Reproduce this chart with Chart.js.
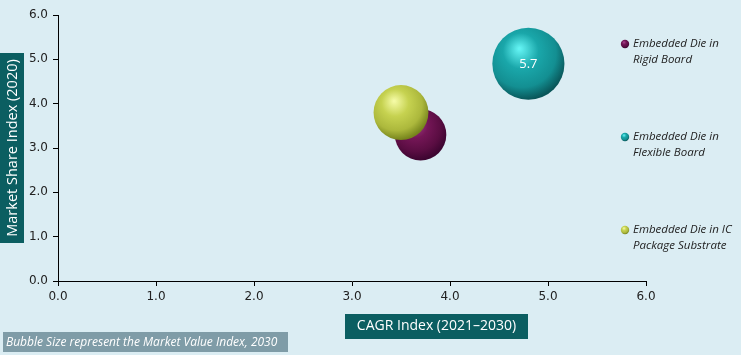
<!DOCTYPE html>
<html><head><meta charset="utf-8">
<script src="https://cdn.jsdelivr.net/npm/chart.js@4"></script>
<style>html,body{margin:0;padding:0;background:#dbedf3;}#wrap{width:741px;height:355px;}</style>
</head><body><div id="wrap"><canvas id="c" width="741" height="355"></canvas></div>
<script>
// ---- data ----
const seriesNames = [["Embedded Die in","Rigid Board"],["Embedded Die in","Flexible Board"],["Embedded Die in IC","Package Substrate"]];
const cagrIndex = [3.7, 4.8, 3.5];
const shareIndex = [3.3, 4.9, 3.8];
const valueIndex = [2.9, 5.7, 3.3];
const shownLabels = [null, "5.7", null];
const xTickValues = [0,1,2,3,4,5,6];
const yTickValues = [0,1,2,3,4,5,6];
const xTitle = "CAGR Index (2021\u20132030)";
const yTitle = "Market Share Index (2020)";
const footnote = "Bubble Size represent the Market Value Index, 2030";

const palettes = [
  ['#a6418a','#741656','#5a0d42','#3c0530'],
  ['#62f2f2','#1aa7aa','#138f92','#095659'],
  ['#f4faa4','#c6d250','#acb83c','#76841c']
];
const K = 15.1;
function rad(v){ return K*Math.sqrt(v); }
function sphereGrad(c, x, y, r, p){
  const g = c.createRadialGradient(x-0.25*r, y-0.42*r, r*0.03, x-0.15*r, y-0.25*r, 1.25*r);
  g.addColorStop(0, p[0]);
  g.addColorStop(0.38, p[1]);
  g.addColorStop(0.75, p[2]);
  g.addColorStop(1, p[3]);
  return g;
}
function bg(i){
  return function(ctx){
    const chart = ctx.chart, raw = ctx.raw;
    if(!raw || !chart.scales || !chart.scales.x || !chart.scales.y) return palettes[i][1];
    const x = chart.scales.x.getPixelForValue(raw.x), y = chart.scales.y.getPixelForValue(raw.y);
    if(!isFinite(x) || !isFinite(y)) return palettes[i][1];
    return sphereGrad(chart.ctx, x, y, rad(raw.v), palettes[i]);
  };
}
const drawOrder = [3, 2, 1];
const datasets = seriesNames.map((n,i)=>({
  label: n.join(' '),
  data: [{x: cagrIndex[i], y: shareIndex[i], v: valueIndex[i]}],
  backgroundColor: bg(i),
  borderWidth: 0,
  radius: (ctx)=> ctx.raw ? rad(ctx.raw.v) : 0,
  order: drawOrder[i]
}));

const TXT = '#222';
const decor = {
  id:'decor',
  beforeDraw(chart){
    const c = chart.ctx;
    c.save(); c.fillStyle = '#dbedf3'; c.fillRect(0,0,chart.width,chart.height); c.restore();
  },
  afterDraw(chart){
    const c = chart.ctx;
    c.save();
    c.font = '13px "Open Sans"'; c.fillStyle = '#fff'; c.textAlign='center'; c.textBaseline='middle';
    chart.data.datasets.forEach((ds,i)=>{
      if(!shownLabels[i]) return;
      const el = chart.getDatasetMeta(i).data[0];
      c.fillText(shownLabels[i], el.x, el.y + 1);
    });
    c.fillStyle = '#0b5e61';
    c.fillRect(0, 53, 24, 190);
    c.save(); c.translate(12.5, 148); c.rotate(-Math.PI/2);
    c.font = '14.5px "Open Sans"'; c.fillStyle='#fff'; c.textAlign='center'; c.textBaseline='middle';
    c.fillText(yTitle, 0, 0); c.restore();
    c.fillStyle = '#0b5e61';
    c.fillRect(345, 314, 183, 25);
    c.font = '14px "Open Sans"'; c.fillStyle='#fff'; c.textAlign='center'; c.textBaseline='middle';
    c.fillText(xTitle, 436.5, 326.5);
    c.fillStyle = '#7f9ca7';
    c.fillRect(3, 332, 285, 20);
    c.font = 'italic 12px "Open Sans"'; c.fillStyle='#fff'; c.textAlign='left';
    c.fillText(footnote, 6, 342.5);
    const ly = [44, 137, 230];
    seriesNames.forEach((n,i)=>{
      const y = ly[i];
      c.fillStyle = sphereGrad(c, 625, y, 4.2, palettes[i]);
      c.beginPath(); c.arc(625, y, 4.2, 0, Math.PI*2); c.fill();
      c.font = 'italic 11.5px "Open Sans"'; c.fillStyle = TXT; c.textAlign='left'; c.textBaseline='middle';
      c.fillText(n[0], 633, y);
      c.fillText(n[1], 633, y+16);
    });
    c.restore();
  }
};

new Chart(document.getElementById('c'), {
  type: 'bubble',
  data: { datasets },
  plugins: [decor],
  options: {
    responsive: false,
    animation: false,
    events: [],
    layout: { autoPadding: false, padding: { left: 0, top: 15, right: 95, bottom: 0 } },
    plugins: { legend: { display: false }, tooltip: { enabled: false } },
    scales: {
      x: {
        type: 'linear', min: 0, max: 6,
        afterBuildTicks: (a)=>{ a.ticks = xTickValues.map(v=>({value:v})); },
        afterFit: (a)=>{ a.height = 74; },
        ticks: { callback: v=>Number(v).toFixed(1), color: TXT, font:{family:'"DejaVu Sans"', size:12}, padding: 4, maxRotation:0 },
        grid: { drawOnChartArea: false, drawTicks: true, tickLength: 5, color: '#000' },
        border: { color: '#000', width: 1 },
        title: { display: false }
      },
      y: {
        type: 'linear', min: 0, max: 6,
        afterBuildTicks: (a)=>{ a.ticks = yTickValues.map(v=>({value:v})); },
        afterFit: (a)=>{ a.width = 58; },
        ticks: { callback: v=>Number(v).toFixed(1), color: TXT, font:{family:'"DejaVu Sans"', size:12}, padding: 5 },
        grid: { drawOnChartArea: false, drawTicks: true, tickLength: 5, color: '#000' },
        border: { color: '#000', width: 1 },
        title: { display: false }
      }
    }
  }
});
</script></body></html>
